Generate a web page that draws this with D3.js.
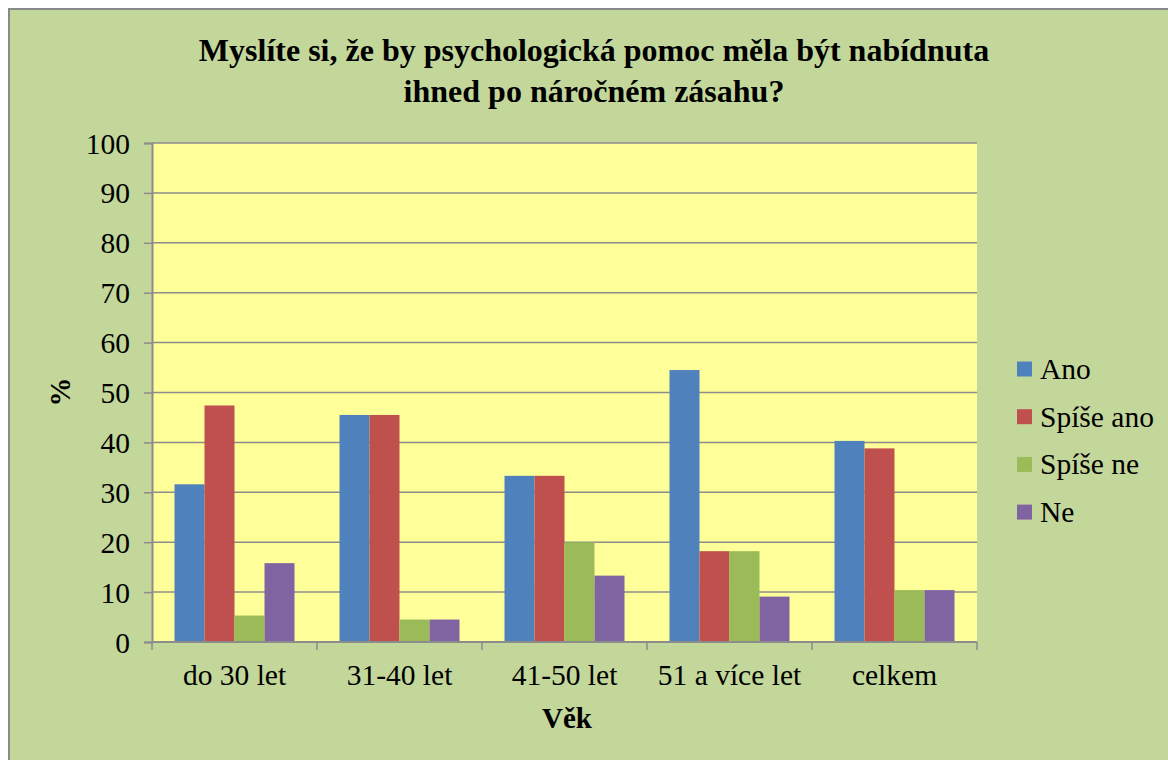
<!DOCTYPE html>
<html><head><meta charset="utf-8">
<script src="https://cdn.jsdelivr.net/npm/d3@7"></script>
</head><body style="margin:0">
<svg id="c" width="1168" height="760"></svg>
<script>
const categories = ["do 30 let", "31-40 let", "41-50 let", "51 a více let", "celkem"];
const seriesNames = ["Ano", "Spíše ano", "Spíše ne", "Ne"];
const ano = [31.6, 45.5, 33.3, 54.5, 40.3];
const spiseAno = [47.4, 45.5, 33.3, 18.2, 38.8];
const spiseNe = [5.3, 4.5, 20.0, 18.2, 10.4];
const ne = [15.8, 4.5, 13.3, 9.1, 10.4];
const yTicks = [0, 10, 20, 30, 40, 50, 60, 70, 80, 90, 100];
const titleLines = ["Myslíte si, že by psychologická pomoc měla být nabídnuta", "ihned po náročném zásahu?"];
const xTitle = "Věk";
const yTitle = "%";
const colors = ["#4F81BD", "#C0504D", "#9BBB59", "#8064A2"];

const seriesValues = [ano, spiseAno, spiseNe, ne];
const svg = d3.select("#c");
const W = 1168, H = 760;
const m = {left: 152, top: 143, right: 977, bottom: 642};
const FF = '"Liberation Serif", "Times New Roman", serif';

svg.append("rect").attr("x", 0).attr("y", 0).attr("width", W).attr("height", H).attr("fill", "#fff");
svg.append("rect").attr("x", 9).attr("y", 9).attr("width", W + 20).attr("height", H + 20)
  .attr("fill", "#C4D79B").attr("stroke", "#8a8a8a").attr("stroke-width", 2);

const x = d3.scaleBand().domain(categories).range([m.left, m.right]).paddingInner(0).paddingOuter(0);
const x1 = d3.scaleBand().domain(seriesNames).range([0, x.bandwidth()]).paddingOuter(0.75).paddingInner(0);
const y = d3.scaleLinear().domain([0, 100]).range([m.bottom, m.top]);

svg.append("rect").attr("x", m.left).attr("y", m.top).attr("width", m.right - m.left).attr("height", m.bottom - m.top).attr("fill", "#FFFF99");

// gridlines
svg.append("g").selectAll("line").data(yTicks.filter(d => d > 0)).join("line")
  .attr("x1", m.left).attr("x2", m.right).attr("y1", d => y(d)).attr("y2", d => y(d))
  .attr("stroke", "#8c8c8c").attr("stroke-width", 1.5);

// bars
const g = svg.append("g");
categories.forEach((c, i) => {
  seriesNames.forEach((s, j) => {
    const v = seriesValues[j][i];
    g.append("rect")
      .attr("x", x(c) + x1(s)).attr("y", y(v))
      .attr("width", x1.bandwidth()).attr("height", y(0) - y(v))
      .attr("fill", colors[j]);
  });
});

// y axis
const yAxis = d3.axisLeft(y).tickValues(yTicks).tickSize(8).tickPadding(14);
const ya = svg.append("g").attr("transform", `translate(${m.left},0)`).call(yAxis);
ya.attr("font-family", null);
ya.select(".domain").attr("stroke", "#8c8c8c").attr("stroke-width", 2);
ya.selectAll(".tick line").attr("stroke", "#8c8c8c").attr("stroke-width", 1.5);
ya.selectAll("text").style("font-family", FF).attr("font-size", 29.5).attr("fill", "#000").attr("dy", "0.34em");

// x axis
const xa = svg.append("g").attr("transform", `translate(0,${m.bottom})`);
xa.append("line").attr("x1", m.left).attr("x2", m.right).attr("stroke", "#8c8c8c").attr("stroke-width", 2);
const bounds = categories.map(c => x(c)).concat([m.right]);
xa.selectAll("line.t").data(bounds).join("line").attr("class", "t")
  .attr("x1", d => d).attr("x2", d => d).attr("y1", 0).attr("y2", 8)
  .attr("stroke", "#8c8c8c").attr("stroke-width", 1.5);
xa.selectAll("text").data(categories).join("text")
  .attr("x", d => x(d) + x.bandwidth() / 2).attr("y", 43)
  .attr("text-anchor", "middle").style("font-family", FF).attr("font-size", 29.5).text(d => d);

// titles
const t = svg.append("text").attr("text-anchor", "middle").style("font-family", FF).style("font-weight", "bold")
  .attr("font-size", 32);
t.selectAll("tspan").data(titleLines).join("tspan")
  .attr("x", 594).attr("y", (d, i) => 61 + i * 40.5).text(d => d);

svg.append("text").attr("x", 567).attr("y", 728).attr("text-anchor", "middle")
  .style("font-family", FF).style("font-weight", "bold").attr("font-size", 29).text(xTitle);
svg.append("text").attr("transform", "translate(70,392) rotate(-90)").attr("text-anchor", "middle")
  .style("font-family", FF).style("font-weight", "bold").attr("font-size", 29).text(yTitle);

// legend
const lg = svg.append("g").selectAll("g").data(seriesNames).join("g")
  .attr("transform", (d, i) => `translate(1017,${369 + i * 47.7})`);
lg.append("rect").attr("x", 0).attr("y", -7.5).attr("width", 15).attr("height", 15).attr("fill", (d, i) => colors[i]);
lg.append("text").attr("x", 23).attr("y", 0).attr("dy", "0.34em").style("font-family", FF).attr("font-size", 29.5).text(d => d);
</script>
</body></html>
